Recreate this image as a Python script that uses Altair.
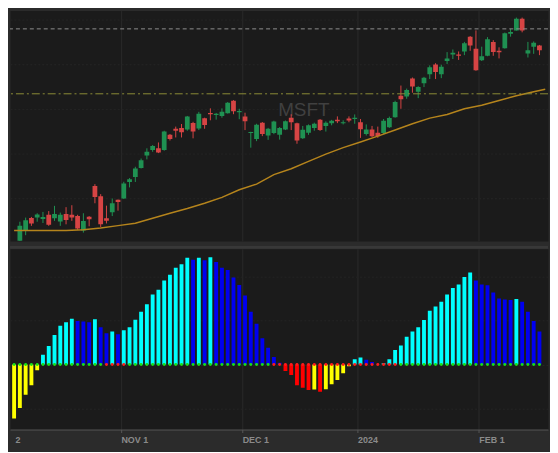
import altair as alt
import pandas as pd

# ---------------- data ----------------
# trading-day index: 19 = Nov 1, 40 = Dec 1, 60 = Jan 2 2024, 81 = Feb 1
bar_idx = list(range(1, 92))
open_px = [319.6, 324.1, 330.1, 330.3, 329.7, 331.6, 330.0, 328.5, 331.9, 331.6,
           331.0, 324.4, 330.7, 344.8, 340.1, 330.0, 332.8, 338.5, 339.1, 346.7,
           349.0, 353.1, 358.9, 361.4, 362.2, 361.4, 368.4, 371.2, 371.6, 370.9,
           373.8, 371.3, 376.0, 378.5, 377.5, 377.1, 378.4, 384.1, 378.8, 376.9,
           369.3, 366.5, 374.0, 368.1, 369.3, 368.4, 370.9, 376.3, 373.7, 366.8,
           369.4, 371.6, 375.3, 372.5, 373.7, 375.3, 373.7, 375.9, 375.7, 374.2,
           368.8, 370.9, 369.4, 369.3, 371.9, 376.5, 386.4, 386.0, 394.4, 388.2,
           392.2, 396.3, 400.8, 396.3, 402.4, 405.4, 405.4, 406.8, 413.6, 408.0,
           402.7, 404.8, 411.2, 407.1, 408.3, 415.0, 416.5, 421.9, 405.8, 409.0,
           409.5]
high_px = [328.4, 330.3, 330.6, 332.3, 332.9, 333.3, 335.7, 332.6, 335.1, 336.0,
           331.6, 332.3, 331.0, 345.7, 341.1, 335.8, 339.1, 338.6, 346.8, 348.5,
           353.7, 357.5, 362.2, 363.7, 364.9, 370.3, 368.8, 372.2, 373.4, 377.1,
           374.4, 379.0, 376.3, 380.6, 378.5, 380.6, 383.5, 384.4, 380.4, 378.6,
           369.8, 373.5, 374.3, 371.6, 374.9, 372.0, 375.0, 377.9, 374.0, 372.5,
           373.2, 374.0, 375.7, 374.6, 375.3, 376.9, 375.1, 376.9, 377.8, 375.7,
           373.2, 372.5, 372.2, 375.7, 376.8, 384.1, 391.1, 389.7, 394.8, 390.8,
           395.1, 400.4, 401.4, 400.7, 406.5, 407.7, 406.8, 411.2, 413.9, 416.5,
           409.0, 413.4, 412.0, 408.7, 415.5, 417.2, 422.4, 422.4, 411.2, 411.4,
           409.8]
low_px = [319.1, 322.2, 326.5, 328.4, 327.8, 326.5, 328.8, 326.5, 327.2, 328.8,
          324.7, 323.4, 326.3, 336.9, 325.9, 327.6, 331.0, 333.5, 338.9, 344.2,
          346.7, 352.9, 357.1, 360.6, 360.0, 361.1, 365.8, 367.2, 367.2, 370.3,
          366.8, 370.6, 371.2, 375.1, 375.4, 376.3, 378.2, 377.9, 375.6, 370.6,
          362.5, 365.5, 367.8, 366.1, 368.7, 366.2, 370.6, 370.6, 364.3, 366.5,
          368.4, 370.3, 370.2, 369.9, 372.8, 373.8, 373.2, 374.2, 373.5, 367.0,
          368.1, 367.4, 367.0, 368.8, 371.6, 376.3, 380.4, 385.0, 387.8, 385.3,
          390.4, 394.1, 394.1, 394.5, 401.0, 403.3, 402.9, 405.1, 407.1, 397.9,
          402.4, 404.6, 404.8, 403.6, 408.1, 413.6, 416.4, 415.6, 404.0, 405.7,
          405.1]
close_px = [326.5, 329.1, 327.6, 331.7, 330.6, 327.0, 331.9, 331.6, 329.2, 330.3,
            325.3, 328.7, 329.5, 339.8, 327.2, 328.8, 336.9, 337.5, 346.0, 348.0,
            352.9, 356.7, 360.6, 363.3, 360.3, 369.9, 366.5, 370.3, 369.6, 376.8,
            369.9, 378.1, 372.9, 377.9, 378.1, 379.0, 383.2, 379.3, 379.4, 374.7,
            369.7, 373.1, 368.8, 371.2, 374.6, 371.5, 374.7, 374.2, 365.8, 370.7,
            372.8, 373.5, 370.6, 374.0, 374.9, 374.7, 374.2, 375.0, 376.3, 371.0,
            370.9, 367.8, 367.7, 374.9, 376.2, 383.5, 384.8, 389.1, 390.7, 390.4,
            394.7, 399.5, 397.3, 399.8, 403.6, 406.2, 404.8, 410.6, 409.5, 398.2,
            404.6, 412.4, 406.5, 406.4, 415.2, 415.8, 421.9, 416.5, 407.4, 410.8,
            407.4]

ma_idx = [0, 3, 6, 9, 12, 15, 18, 21, 24, 27, 30, 33, 36, 39, 42, 45, 48, 51,
          54, 57, 60, 63, 66, 69, 72, 75, 78, 81, 84, 87, 90, 92]
ma_val = [324.4, 324.4, 324.4, 324.4, 324.7, 325.5, 326.6, 327.7, 330.0, 332.3,
          334.5, 336.9, 339.6, 343.1, 345.7, 350.1, 352.8, 356.2, 359.5, 362.5,
          365.1, 367.8, 370.6, 373.5, 376.1, 377.8, 380.4, 382.0, 384.2, 386.4,
          388.2, 389.4]

level_high = [417.2]   # grey dashed level
level_mid = [387.3]    # olive dash-dot level

mom_idx = list(range(0, 92))
mom_val = [-12.3, -9.9, -6.9, -4.7, -1.3, 2.2, 4.2, 6.7, 8.8, 9.6,
           10.4, 9.9, 9.8, 9.6, 10.3, 8.5, 7.1, 7.5, 6.9, 7.8,
           8.5, 10.2, 12.0, 13.7, 15.9, 17.0, 19.1, 20.4, 22.0, 22.8,
           24.3, 23.8, 24.3, 23.7, 24.4, 23.3, 22.0, 21.5, 19.8, 18.1,
           15.7, 12.0, 9.3, 6.0, 3.8, 1.7, 0.4, -1.5, -2.4, -4.7,
           -5.3, -5.8, -5.7, -6.2, -5.6, -4.5, -3.5, -2.0, -0.4, 1.2,
           1.6, 1.1, 0.6, 0.0, 0.3, 1.2, 3.3, 4.3, 6.3, 7.5,
           8.5, 10.1, 12.2, 13.2, 14.3, 15.9, 17.4, 18.2, 19.9, 20.9,
           19.1, 18.2, 18.0, 16.4, 15.0, 14.8, 14.7, 14.9, 14.3, 12.0,
           9.9, 7.5]
squeeze_on_idx = [16, 17, 18, 19] + list(range(45, 67))

tick_vals = [0.15, 18.5, 39.5, 59.5, 80.5]
tick_labels = ["2", "NOV 1", "DEC 1", "2024", "FEB 1"]
price_grid = [339.4, 359.9, 380.5, 401.0, 421.5]
mom_grid = [-10, 0, 10, 20]
watermark = ["MSFT"]

# ---------------- layout / style ----------------
W, H_TOP, H_BOT = 542, 232, 182
X_DOMAIN = [0.1475, 91.623]
P_DOMAIN = [319.56, 425.6]
M_DOMAIN = [-14.78, 26.3]

BG = "#2b2b2b"
PLOT_BG = "#1b1b1b"
VGRID = "#2a2a2a"
HGRID = "#242424"
AXC = "#575757"
UP, DOWN = "#1f9152", "#d64444"

candles = pd.DataFrame(dict(i=bar_idx, o=open_px, h=high_px, l=low_px, c=close_px))
candles["dir"] = ["up" if c >= o else "down" for o, c in zip(open_px, close_px)]
ma = pd.DataFrame(dict(i=ma_idx, v=ma_val))

cols = []
prev = None
for v in mom_val:
    if v >= 0:
        cols.append("pos_up" if (prev is None or v > prev) else "pos_down")
    else:
        cols.append("neg_down" if (prev is not None and v < prev) else "neg_up")
    prev = v
mom = pd.DataFrame(dict(i=mom_idx, v=mom_val, col=cols,
                        sq=["on" if i in squeeze_on_idx else "off" for i in mom_idx]))

xs = alt.Scale(domain=X_DOMAIN, nice=False, zero=False)
ps = alt.Scale(domain=P_DOMAIN, nice=False, zero=False)
ms = alt.Scale(domain=M_DOMAIN, nice=False, zero=False)

top_x_axis = alt.Axis(values=tick_vals[1:], grid=True, gridColor=VGRID, labels=False,
                      ticks=False, domain=False, title=None, minExtent=0, maxExtent=0)
top_y_axis = alt.Axis(values=price_grid, grid=True, gridColor=HGRID, gridDash=[2, 2],
                      labels=False, ticks=False, domain=False, title=None,
                      minExtent=0, maxExtent=0)

dir_color = alt.Color("dir:N", scale=alt.Scale(domain=["up", "down"], range=[UP, DOWN]), legend=None)

wm = alt.Chart(pd.DataFrame({"t": watermark})).mark_text(
    font="Liberation Sans", fontSize=19, color="#404040", align="center", baseline="middle"
).encode(x=alt.value(296), y=alt.value(100), text="t:N")

wicks = alt.Chart(candles).mark_rule(strokeWidth=1, clip=True).encode(
    x=alt.X("i:Q", scale=xs, axis=top_x_axis),
    y=alt.Y("l:Q", scale=ps, axis=top_y_axis),
    y2="h:Q",
    color=dir_color,
)
bodies = alt.Chart(candles).mark_bar(size=4.8, clip=True).encode(
    x=alt.X("i:Q", scale=xs),
    y=alt.Y("o:Q", scale=ps),
    y2="c:Q",
    color=dir_color,
)
ma_line = alt.Chart(ma).mark_line(color="#b5841c", strokeWidth=1.5, clip=True).encode(
    x=alt.X("i:Q", scale=xs), y=alt.Y("v:Q", scale=ps)
)
lvl_hi = alt.Chart(pd.DataFrame({"v": level_high})).mark_rule(
    color="#8e8e8e", strokeWidth=1, strokeDash=[4, 3]
).encode(y=alt.Y("v:Q", scale=ps))
lvl_mid = alt.Chart(pd.DataFrame({"v": level_mid})).mark_rule(
    color="#8c8c36", strokeWidth=1, strokeDash=[8, 3, 2, 3]
).encode(y=alt.Y("v:Q", scale=ps))

top = alt.layer(wm, wicks, bodies, ma_line, lvl_hi, lvl_mid).properties(width=W, height=H_TOP)

label_expr = " : ".join(
    f"abs(datum.value - {v}) < 0.01 ? '{t}'" for v, t in zip(tick_vals, tick_labels)
) + " : ''"
first_cond = f"datum.value < {tick_vals[0] + 1}"

bottom_x_axis = alt.Axis(
    values=tick_vals, labelExpr=label_expr, grid=True, gridColor=VGRID,
    gridOpacity={"condition": {"test": first_cond, "value": 0}, "value": 1},
    ticks=True, tickSize=3, tickColor=AXC,
    tickOpacity={"condition": {"test": first_cond, "value": 0}, "value": 1},
    domain=True, domainColor=AXC, labelAlign="left", labelBaseline="top",
    labelPadding=3, labelFont="Liberation Sans", labelFontSize=9,
    labelFontWeight="bold", labelColor="#8a8a8a", labelFlush=False,
    labelOverlap=False, title=None, minExtent=20, maxExtent=20,
)
mom_y_axis = alt.Axis(values=mom_grid, grid=True, gridColor=HGRID, gridDash=[2, 2],
                      labels=False, ticks=False, domain=False, title=None,
                      minExtent=0, maxExtent=0)

bars = alt.Chart(mom).mark_bar(size=3.9, clip=True).encode(
    x=alt.X("i:Q", scale=xs, axis=bottom_x_axis),
    y=alt.Y("v:Q", scale=ms, axis=mom_y_axis),
    y2=alt.datum(0),
    color=alt.Color("col:N", scale=alt.Scale(
        domain=["pos_up", "pos_down", "neg_down", "neg_up"],
        range=["#00ffff", "#0000f0", "#ff0000", "#ffff00"]), legend=None),
)
dots = alt.Chart(mom).mark_circle(size=9, opacity=1, clip=True).encode(
    x=alt.X("i:Q", scale=xs),
    y=alt.datum(0),
    color=alt.Color("sq:N", scale=alt.Scale(domain=["off", "on"], range=["#16e016", "#ff1a1a"]),
                    legend=None),
)
sep = alt.Chart(pd.DataFrame({"a": [0]})).mark_rule(color="#383838", strokeWidth=3).encode(
    x=alt.value(0), x2=alt.value(W), y=alt.value(-1.5)
)

bottom = alt.layer(bars, dots, sep).resolve_scale(color="independent").properties(
    width=W, height=H_BOT)

chart = alt.vconcat(top, bottom, spacing=3).properties(
    padding=0, background=BG
).configure_view(fill=PLOT_BG, stroke="transparent")

chart.save("out.html", embed_options={"renderer": "svg", "actions": False})
